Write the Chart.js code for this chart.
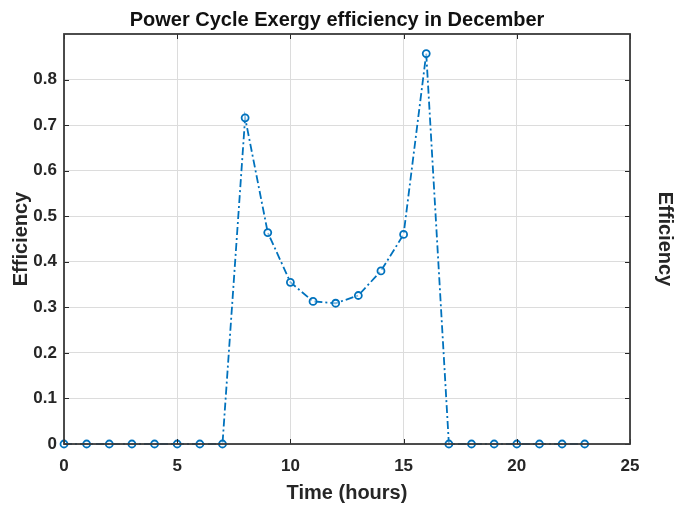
<!DOCTYPE html>
<html>
<head>
<meta charset="utf-8">
<script src="https://cdn.jsdelivr.net/npm/chart.js@4/dist/chart.umd.min.js"></script>
<style>
  html, body { margin: 0; padding: 0; background: #ffffff; }
  #wrap { width: 674px; height: 506px; }
</style>
</head>
<body>
<div id="wrap"><canvas id="c" width="674" height="506"></canvas></div>
<script>
// Hour of day and power-cycle exergy efficiency for December
const hours = [0,1,2,3,4,5,6,7,8,9,10,11,12,13,14,15,16,17,18,19,20,21,22,23];
const efficiency = [0,0,0,0,0,0,0,0,0.716,0.464,0.355,0.313,0.309,0.326,0.380,0.460,0.857,0,0,0,0,0,0,0];
const xTicks = [0,5,10,15,20,25];
const yTicks = [0,0.1,0.2,0.3,0.4,0.5,0.6,0.7,0.8];

const blue = '#0072BD';
const ink = '#262626';
const family = 'Liberation Sans, Arial, sans-serif';
const tickFont = { family, size: 17, weight: 'bold' };
const labelFont = { family, size: 20, weight: 'bold' };

// Inward tick marks on all four sides of the box, plus the box outline
const boxTicks = {
  id: 'boxTicks',
  afterDraw(chart) {
    const { ctx, chartArea: a, scales } = chart;
    ctx.save();
    ctx.strokeStyle = '#262626';
    ctx.lineWidth = 1;
    const len = 5;
    xTicks.forEach(v => {
      const x = Math.round(scales.x.getPixelForValue(v)) + 0.5;
      ctx.beginPath();
      ctx.moveTo(x, a.bottom); ctx.lineTo(x, a.bottom - len);
      ctx.moveTo(x, a.top); ctx.lineTo(x, a.top + len);
      ctx.stroke();
    });
    yTicks.forEach(v => {
      const y = Math.round(scales.y.getPixelForValue(v)) + 0.5;
      ctx.beginPath();
      ctx.moveTo(a.left, y); ctx.lineTo(a.left + len, y);
      ctx.moveTo(a.right, y); ctx.lineTo(a.right - len, y);
      ctx.stroke();
    });
    ctx.lineWidth = 1.8;
    ctx.strokeStyle = '#3a3a3a';
    ctx.strokeRect(a.left, a.top, a.right - a.left, a.bottom - a.top);
    ctx.restore();
  }
};

new Chart(document.getElementById('c'), {
  type: 'line',
  data: {
    datasets: [{
      data: hours.map((h, i) => ({ x: h, y: efficiency[i] })),
      borderColor: blue,
      borderWidth: 1.8,
      borderDash: [8, 3, 2, 3],
      pointStyle: 'circle',
      pointRadius: 3.5,
      pointBorderWidth: 1.8,
      pointBorderColor: blue,
      pointBackgroundColor: 'rgba(255,255,255,0.5)',
      tension: 0,
      fill: false,
      clip: false
    }]
  },
  options: {
    responsive: false,
    animation: false,
    layout: { padding: 0 },
    plugins: {
      legend: { display: false },
      tooltip: { enabled: false },
      title: {
        display: true,
        text: 'Power Cycle Exergy efficiency in December',
        color: '#111111',
        font: labelFont,
        padding: { top: 8, bottom: 2 }
      }
    },
    scales: {
      x: {
        type: 'linear',
        min: 0, max: 25,
        afterBuildTicks: s => { s.ticks = xTicks.map(v => ({ value: v })); },
        afterFit: s => { s.height = 62; },
        ticks: { color: ink, font: tickFont, padding: 12, maxRotation: 0 },
        grid: { color: '#dcdcdc', lineWidth: 1, drawTicks: false },
        border: { display: false },
        title: {
          display: true, text: 'Time (hours)', color: ink,
          font: labelFont,
          padding: { top: 0, bottom: 1 }
        }
      },
      y: {
        type: 'linear',
        position: 'left',
        min: 0, max: 0.9,
        afterBuildTicks: s => { s.ticks = yTicks.map(v => ({ value: v })); },
        afterFit: s => { s.width = 64; },
        ticks: { color: ink, font: tickFont, padding: 7 },
        grid: { color: '#dcdcdc', lineWidth: 1, drawTicks: false },
        border: { display: false },
        title: {
          display: true, text: 'Efficiency', color: ink,
          font: labelFont,
          padding: { top: 9, bottom: 0 }
        }
      },
      y2: {
        type: 'linear',
        position: 'right',
        min: 0, max: 0.9,
        afterFit: s => { s.width = 44; },
        ticks: { display: false },
        grid: { display: false, drawTicks: false },
        border: { display: false },
        title: {
          display: true, text: 'Efficiency', color: ink,
          font: labelFont,
          padding: { top: -3, bottom: 0 }
        }
      }
    }
  },
  plugins: [boxTicks]
});
</script>
</body>
</html>
